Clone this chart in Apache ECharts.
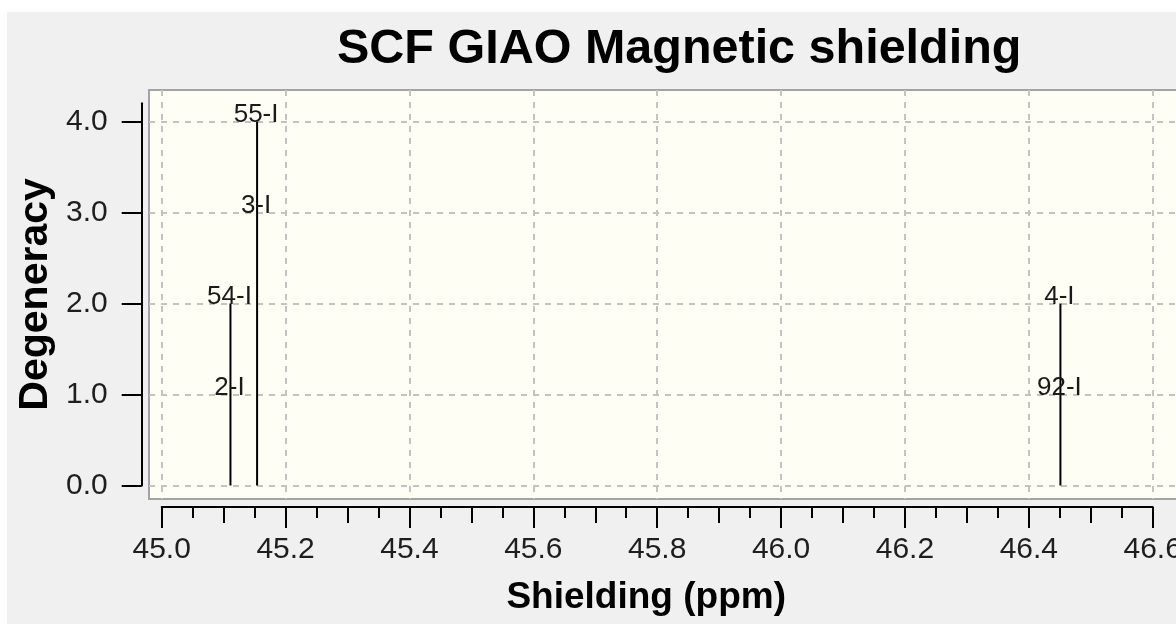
<!DOCTYPE html>
<html>
<head>
<meta charset="utf-8">
<script src="https://cdn.jsdelivr.net/npm/echarts@6/dist/echarts.min.js"></script>
<style>
  html, body { margin: 0; padding: 0; background: #ffffff; }
  #bg { position: absolute; left: 7px; top: 12px; width: 1169px; height: 612px; background: #f0f0f0; }
  #chart { position: absolute; left: 0; top: 0; width: 1176px; height: 624px; }
</style>
</head>
<body>
<div id="bg"></div>
<div id="chart"></div>
<script>
// ---- data ----
const peakShielding = [45.111, 45.154, 46.451];
const peakDegeneracy = [2, 4, 2];
const labelText = ['2-I', '54-I', '3-I', '55-I', '92-I', '4-I'];
const labelShielding = [45.111, 45.111, 45.154, 45.154, 46.451, 46.451];
const labelLevel = [1, 2, 3, 4, 1, 2];
const yTicks = [0, 1, 2, 3, 4];
const xRange = [45.0, 46.6];
const yRange = [0, 4.2];

// ---- layout ----
const FONT = '"Liberation Sans", Arial, sans-serif';
const g1 = { left: 161.7, top: 103.3, width: 991, height: 382.2 };   // data axes
const g0 = { left: 149, top: 90, width: 1100, height: 409 };         // plot frame
const pxX = g1.width / (xRange[1] - xRange[0]);
const pxY = g1.height / (yRange[1] - yRange[0]);
const y0px = g1.top + g1.height;
// grid for vertical grid lines: starts at xRange[0], spans full frame height
const gV = { left: g1.left, top: g0.top, width: g0.left + g0.width - g1.left, height: g0.height };
const gVmax = xRange[0] + gV.width / pxX;
// grid for horizontal grid lines: starts at yRange[0], spans full frame width
const gH = { left: g0.left, top: g0.top, width: g0.width, height: y0px - g0.top };
const gHmax = yRange[0] + gH.height / pxY;

const gridLine = { show: true, lineStyle: { type: [6, 6], color: '#c2c2c2', width: 2 } };
const black = { color: '#000', width: 2 };
const hidden = { axisLine: { show: false }, axisTick: { show: false }, axisLabel: { show: false }, splitLine: { show: false } };
const gridBase = { outerBoundsMode: 'none', containLabel: false };

const chart = echarts.init(document.getElementById('chart'), null, { renderer: 'canvas' });
chart.setOption({
  backgroundColor: 'transparent',
  animation: false,
  title: {
    text: 'SCF GIAO Magnetic shielding',
    left: 332, top: 20,
    textStyle: { fontFamily: FONT, fontSize: 48.5, fontWeight: 'bold', color: '#000' }
  },
  grid: [
    Object.assign({ left: g0.left, top: g0.top, width: g0.width, height: g0.height, show: true,
      backgroundColor: '#fefef5', borderColor: '#a3a3a3', borderWidth: 2 }, gridBase),
    Object.assign({}, gV, gridBase),
    Object.assign({}, gH, gridBase),
    Object.assign({}, g1, gridBase),
    Object.assign({}, g1, gridBase)
  ],
  xAxis: [
    Object.assign({ gridIndex: 0, type: 'value', min: 0, max: 1 }, hidden),
    Object.assign({ gridIndex: 1, type: 'value', min: xRange[0], max: gVmax, interval: 0.2 }, hidden,
      { splitLine: Object.assign({ showMinLine: true, showMaxLine: false }, gridLine) }),
    Object.assign({ gridIndex: 2, type: 'value', min: 0, max: 1 }, hidden),
    { gridIndex: 3, type: 'value', min: xRange[0], max: xRange[1], interval: 0.2,
      position: 'bottom', offset: 21.5,
      axisLine: { show: true, onZero: false, lineStyle: black },
      axisTick: { show: true, length: 21, lineStyle: black },
      minorTick: { show: true, splitNumber: 4, length: 11, lineStyle: black },
      axisLabel: { formatter: v => v.toFixed(1), fontFamily: FONT, fontSize: 30, color: '#1e1e1e', margin: 28 },
      splitLine: { show: false },
      name: 'Shielding (ppm)', nameLocation: 'middle', nameGap: 72, nameMoveOverlap: false,
      nameTextStyle: { fontFamily: FONT, fontSize: 37, fontWeight: 'bold', color: '#000', padding: [0, 22, 0, 0] } },
    { gridIndex: 4, type: 'value', min: xRange[0], max: xRange[1], interval: 0.1,
      position: 'bottom', offset: 21.5,
      axisLine: { show: false, onZero: false }, axisTick: { show: true, length: 16, lineStyle: black },
      axisLabel: { show: false }, splitLine: { show: false } }
  ],
  yAxis: [
    Object.assign({ gridIndex: 0, type: 'value', min: 0, max: 1 }, hidden),
    Object.assign({ gridIndex: 1, type: 'value', min: 0, max: 1 }, hidden),
    Object.assign({ gridIndex: 2, type: 'value', min: yRange[0], max: gHmax, interval: 1 }, hidden,
      { splitLine: Object.assign({ showMinLine: true, showMaxLine: false }, gridLine) }),
    { gridIndex: 3, type: 'value', min: yRange[0], max: yRange[1], position: 'left', offset: 20,
      axisLine: { show: true, onZero: false, lineStyle: black },
      axisTick: { show: true, length: 20, customValues: yTicks, lineStyle: black },
      axisLabel: { customValues: yTicks, formatter: v => v.toFixed(1), fontFamily: FONT, fontSize: 30, color: '#1e1e1e', margin: 34 },
      splitLine: { show: false },
      name: 'Degeneracy', nameLocation: 'middle', nameGap: 86, nameRotate: 90, nameMoveOverlap: false,
      nameTextStyle: { fontFamily: FONT, fontSize: 41, fontWeight: 'bold', color: '#000' } },
    Object.assign({ gridIndex: 4, type: 'value', min: yRange[0], max: yRange[1] }, hidden)
  ],
  series: [
    { type: 'custom', xAxisIndex: 3, yAxisIndex: 3, silent: true, z: 4,
      data: peakShielding.map((x, i) => [x, peakDegeneracy[i]]),
      renderItem: (params, api) => {
        const x = api.value(0), d = api.value(1);
        const p0 = api.coord([x, 0]);
        const p1 = api.coord([x, d]);
        return { type: 'line', shape: { x1: p0[0], y1: p0[1], x2: p1[0], y2: p1[1] },
          style: { stroke: '#000', lineWidth: 2 } };
      } },
    { type: 'custom', xAxisIndex: 3, yAxisIndex: 3, silent: true, z: 5,
      data: labelShielding.map((x, i) => [x, labelLevel[i]]),
      renderItem: (params, api) => {
        const p = api.coord([api.value(0), api.value(1)]);
        return { type: 'text', x: p[0] - 1, y: p[1] + 6,
          style: { text: labelText[params.dataIndex], font: '26px ' + FONT, fill: '#1a1a1a',
            align: 'center', verticalAlign: 'bottom' } };
      } }
  ]
});
</script>
</body>
</html>
